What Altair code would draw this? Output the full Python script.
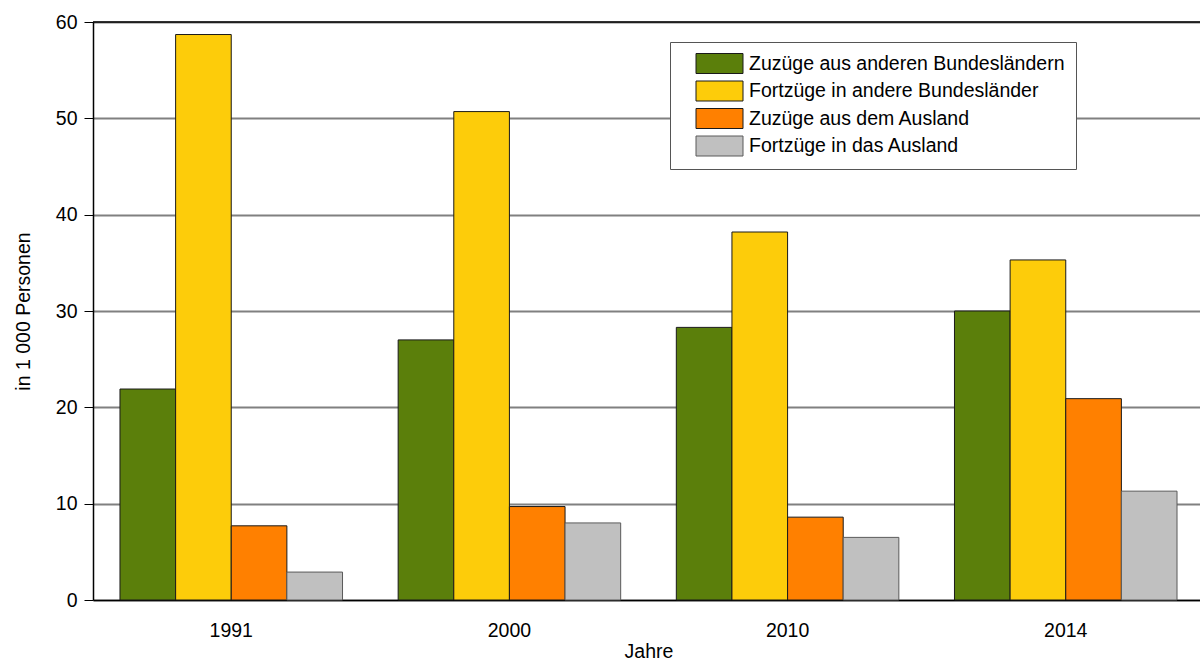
import altair as alt
import pandas as pd

# Wanderungen über die Landesgrenze, in 1 000 Personen
jahre = ["1991", "2000", "2010", "2014"]
reihen = [
    "Zuzüge aus anderen Bundesländern",
    "Fortzüge in andere Bundesländer",
    "Zuzüge aus dem Ausland",
    "Fortzüge in das Ausland",
]
zuzuege_bl = [21.9, 27.0, 28.3, 30.0]
fortzuege_bl = [58.7, 50.7, 38.2, 35.3]
zuzuege_ausland = [7.7, 9.7, 8.6, 20.9]
fortzuege_ausland = [2.9, 8.0, 6.5, 11.3]

farben = ["#5B7F0B", "#FDCC0A", "#FF8000", "#C0C0C0"]
rahmen = ["#1a1a1a", "#1a1a1a", "#1a1a1a", "#5a5a5a"]

werte = [zuzuege_bl, fortzuege_bl, zuzuege_ausland, fortzuege_ausland]
rows = []
for reihe, serie in zip(reihen, werte):
    for jahr, v in zip(jahre, serie):
        rows.append({"Jahr": jahr, "Reihe": reihe, "Wert": v})
df = pd.DataFrame(rows)

FONT = "Liberation Sans"
FS = 19.5

bars = alt.Chart(df).mark_bar(strokeWidth=1).encode(
    x=alt.X(
        "Jahr:N",
        sort=jahre,
        # die Jahresgruppen laufen etwas über den rechten Rand hinaus
        scale=alt.Scale(paddingInner=0.2, paddingOuter=0.097, range=[0, 1111]),
        axis=alt.Axis(
            title="Jahre",
            labelAngle=0,
            ticks=False,
            labelPadding=21,
            titlePadding=3,
            domainColor="#000000",
            domainWidth=1.5,
        ),
    ),
    xOffset=alt.XOffset(
        "Reihe:N", sort=reihen, scale=alt.Scale(paddingInner=0, paddingOuter=0)
    ),
    y=alt.Y(
        "Wert:Q",
        scale=alt.Scale(domain=[0, 60], nice=False),
        axis=alt.Axis(
            title="in 1 000 Personen",
            values=[0, 10, 20, 30, 40, 50, 60],
            tickSize=9,
            tickColor="#000000",
            labelPadding=7,
            titlePadding=22,
            domainColor="#000000",
            domainWidth=1.5,
            grid=True,
            gridColor="#808080",
            gridWidth=1.8,
        ),
    ),
    color=alt.Color(
        "Reihe:N",
        sort=reihen,
        scale=alt.Scale(domain=reihen, range=farben),
        legend=alt.Legend(
            title=None,
            orient="none",
            legendX=577,
            legendY=20,
            fillColor="#ffffff",
            strokeColor="#555555",
            padding=11,
            symbolOffset=28,
            symbolType="M-2.35,-1H2.35V1H-2.35Z",
            symbolSize=400,
            symbolStrokeWidth=1,
            symbolStrokeColor="#333333",
            labelOffset=19,
            rowPadding=2.5,
            labelLimit=500,
        ),
    ),
    stroke=alt.Stroke(
        "Reihe:N",
        sort=reihen,
        scale=alt.Scale(domain=reihen, range=rahmen),
        legend=None,
    ),
)

# obere Begrenzung der Zeichenfläche bei 60
oben = alt.Chart(pd.DataFrame({"y": [60]})).mark_rule(
    color="#000000", strokeWidth=1.5
).encode(y="y:Q")

chart = (
    alt.layer(bars, oben)
    .properties(
        width=1107,
        height=578,
        autosize=alt.AutoSizeParams(type="none"),
        padding={"left": 93, "top": 22, "right": 0, "bottom": 64},
    )
    .configure(font=FONT)
    .configure_view(stroke=None)
    .configure_axis(
        labelFont=FONT,
        labelFontSize=FS,
        labelColor="#000000",
        titleFont=FONT,
        titleFontSize=FS,
        titleFontWeight="normal",
        titleColor="#000000",
    )
    .configure_legend(labelFont=FONT, labelFontSize=FS, labelColor="#000000")
)

chart.save("out.html", embed_options={"renderer": "svg", "actions": False})
